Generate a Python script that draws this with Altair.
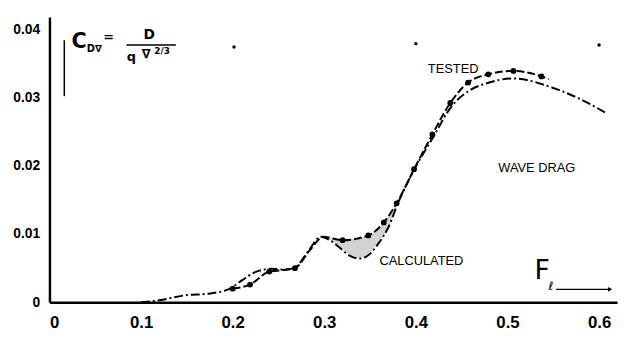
import altair as alt
import pandas as pd

# ---- data ----
tested_x = [0.200, 0.219, 0.240, 0.268, 0.320, 0.348, 0.365, 0.379, 0.398, 0.418, 0.4375, 0.457, 0.479, 0.5065, 0.537]
tested_y = [0.0020, 0.0026, 0.0045, 0.0050, 0.0091, 0.0098, 0.0117, 0.0145, 0.0195, 0.0246, 0.0292, 0.0322, 0.0334, 0.0339, 0.0331]

tested_line_x = [0.200, 0.219, 0.240, 0.254, 0.268, 0.284, 0.299, 0.320, 0.348, 0.365, 0.379, 0.398, 0.418, 0.4375, 0.457, 0.479, 0.5065, 0.537, 0.545]
tested_line_y = [0.0020, 0.0026, 0.0045, 0.0047, 0.0050, 0.0076, 0.0096, 0.0091, 0.0098, 0.0117, 0.0145, 0.0195, 0.0246, 0.0292, 0.0322, 0.0334, 0.0339, 0.0331, 0.0327]

calc_x = [0.100, 0.120, 0.147, 0.176, 0.197, 0.210, 0.226, 0.242, 0.256, 0.267, 0.282, 0.296, 0.306, 0.316, 0.328, 0.339, 0.349, 0.359, 0.370, 0.381, 0.398, 0.418, 0.440, 0.457, 0.480, 0.506, 0.550, 0.579, 0.608]
calc_y = [0.0000, 0.0003, 0.0010, 0.0013, 0.0020, 0.0032, 0.0045, 0.0049, 0.0048, 0.0050, 0.0074, 0.0096, 0.0091, 0.0081, 0.0068, 0.0064, 0.0070, 0.0086, 0.0110, 0.0147, 0.0194, 0.0240, 0.0289, 0.0309, 0.0322, 0.0328, 0.0314, 0.0298, 0.0277]

shade_x = [0.300, 0.310, 0.320, 0.331, 0.339, 0.348, 0.359, 0.370, 0.379]
shade_top = [0.0096, 0.0093, 0.0091, 0.0093, 0.0095, 0.0098, 0.0108, 0.0126, 0.0145]
shade_bot = [0.0096, 0.0088, 0.0078, 0.0066, 0.0064, 0.0071, 0.0088, 0.0110, 0.0145]

x_ticks = [0, 0.1, 0.2, 0.3, 0.4, 0.5, 0.6]
y_ticks = [0, 0.01, 0.02, 0.03, 0.04]

labels = ["TESTED", "CALCULATED", "WAVE   DRAG"]
label_x = [0.4407, 0.406, 0.532]
label_y = [0.0342, 0.0061, 0.0196]

stray_x = [0.2015, 0.400, 0.600]
stray_y = [0.0374, 0.0379, 0.0377]

XMAX = 0.6196
YMAX = 0.0418

xs = alt.Scale(domain=[0, XMAX], nice=False, zero=False)
ys = alt.Scale(domain=[0, YMAX], nice=False, zero=False)

X = lambda f: alt.X(f, type="quantitative", scale=xs, axis=alt.Axis(
    values=x_ticks, title=None, grid=False, tickSize=0, labelPadding=13,
    labelFont="Liberation Sans", labelFontSize=17, labelFontWeight="bold",
    labelColor="black", domainColor="black", domainWidth=2.5,
    labelExpr="datum.value == 0 ? '0' : format(datum.value, '.1f')"))
Y = lambda f: alt.Y(f, type="quantitative", scale=ys, axis=alt.Axis(
    values=y_ticks, title=None, grid=False, tickSize=0, labelPadding=10,
    labelFont="Liberation Sans", labelFontSize=14, labelFontWeight="bold",
    labelColor="black", domainColor="black", domainWidth=2.5,
    labelExpr="datum.value == 0 ? '0' : format(datum.value, '.2f')"))

df_t = pd.DataFrame({"x": tested_x, "y": tested_y})
df_tl = pd.DataFrame({"x": tested_line_x, "y": tested_line_y})
df_c = pd.DataFrame({"x": calc_x, "y": calc_y})
df_s = pd.DataFrame({"x": shade_x, "top": shade_top, "bot": shade_bot})
df_lab = pd.DataFrame({"x": label_x, "y": label_y, "t": labels})
df_stray = pd.DataFrame({"x": stray_x, "y": stray_y})

shade = alt.Chart(df_s).mark_area(interpolate="monotone", color="#d2d2d2").encode(
    x=X("x"), y=Y("top"), y2="bot")
calc = alt.Chart(df_c).mark_line(interpolate="monotone", color="black", strokeWidth=2,
                                 strokeDash=[9, 3, 2, 3]).encode(x=X("x"), y=Y("y"))
tested = alt.Chart(df_tl).mark_line(interpolate="monotone", color="black", strokeWidth=2,
                                    strokeDash=[8, 3]).encode(x=X("x"), y=Y("y"))
dots = alt.Chart(df_t).mark_circle(size=34, color="black", opacity=1).encode(x=X("x"), y=Y("y"))
stray = alt.Chart(df_stray).mark_circle(size=12, color="black", opacity=1).encode(x=X("x"), y=Y("y"))

labs = alt.Chart(df_lab).mark_text(font="Liberation Sans", fontSize=13, color="black").encode(
    x=X("x"), y=Y("y"), text="t:N")

# formula  C_D∇ = D / (q ∇^(2/3))
f_text = pd.DataFrame({
    "x": [0.0323, 0.0490, 0.0647, 0.1088, 0.0894, 0.1056, 0.1230],
    "y": [0.0381, 0.0371, 0.0388, 0.0392, 0.0360, 0.0364, 0.0368],
    "t": ["C", "D∇", "=", "D", "q", "∇", "2/3"],
    "s": [21, 10, 13, 14, 13, 13, 9],
})
formula = alt.Chart(f_text).mark_text(font="DejaVu Sans", fontWeight="bold", color="black").encode(
    x=X("x"), y=Y("y"), text="t:N", size=alt.Size("s:Q", scale=None, legend=None))
frac = alt.Chart(pd.DataFrame({"x": [0.084], "x2": [0.138], "y": [0.0377]})).mark_rule(
    color="black", strokeWidth=1.5).encode(x=X("x"), x2="x2", y=Y("y"))
vbar = alt.Chart(pd.DataFrame({"x": [0.0162], "y": [0.0384], "y2": [0.0302]})).mark_rule(
    color="black", strokeWidth=1.5).encode(x=X("x"), y=Y("y"), y2="y2")

# F_l with arrow
fl = pd.DataFrame({"x": [0.5378, 0.5475], "y": [0.0046, 0.0024], "t": ["F", "ℓ"], "s": [27, 12]})
fl_text = alt.Chart(fl).mark_text(font="DejaVu Sans", color="black").encode(
    x=X("x"), y=Y("y"), text="t:N", size=alt.Size("s:Q", scale=None, legend=None))
arrow = alt.Chart(pd.DataFrame({"x": [0.5530], "x2": [0.612], "y": [0.0019]})).mark_rule(
    color="black", strokeWidth=1.3).encode(x=X("x"), x2="x2", y=Y("y"))
head = alt.Chart(pd.DataFrame({"x": [0.612], "y": [0.0019]})).mark_point(
    shape="triangle-right", filled=True, size=22, color="black", opacity=1).encode(x=X("x"), y=Y("y"))

chart = alt.layer(shade, calc, tested, dots, stray, labs, formula, frac, vbar, fl_text, arrow, head).properties(
    width=575, height=289,
    autosize=alt.AutoSizeParams(type="none"),
    padding={"left": 42, "top": 7, "right": 4, "bottom": 30},
    background="white",
).configure_view(stroke=None)

chart.save("out.html", embed_options={"renderer": "svg", "actions": False})
